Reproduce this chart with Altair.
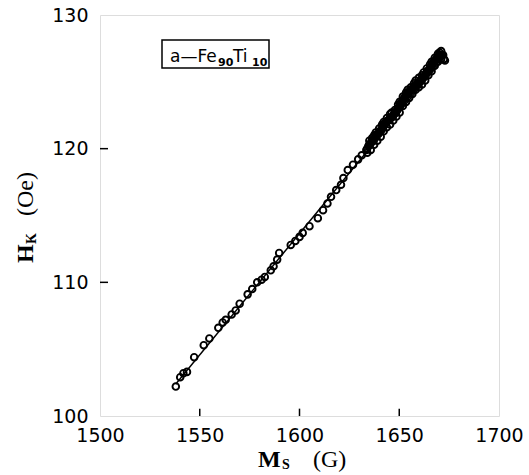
import altair as alt
import pandas as pd

# measured points: Ms (G), Hk (Oe)
ms_vals = [1538.0, 1540.2, 1541.8, 1543.6, 1547.2, 1552.0, 1554.8, 1559.3, 1561.5, 1563.0,
           1566.0, 1568.0, 1570.0, 1574.0, 1576.3, 1578.8, 1581.0, 1582.6, 1585.6, 1587.0,
           1588.8, 1589.8, 1595.6, 1597.9, 1600.0, 1601.6, 1605.0, 1609.2, 1611.8, 1614.0,
           1615.8, 1618.4, 1620.8, 1622.0, 1624.2, 1626.8, 1629.4, 1631.2,
           1633.5, 1634.5, 1635.3, 1636.0, 1637.0, 1637.8, 1638.6, 1639.5, 1640.3, 1641.0,
           1641.8, 1642.6, 1643.4, 1644.2, 1645.0, 1645.8, 1646.6, 1647.4, 1648.2, 1649.0,
           1649.8, 1650.6, 1651.4, 1652.2, 1653.0, 1653.8, 1654.6, 1655.4, 1656.2, 1657.0,
           1657.8, 1658.6, 1659.4, 1660.2, 1661.0, 1661.8, 1662.6, 1663.4, 1664.2, 1665.0,
           1665.8, 1666.6, 1667.4, 1668.2, 1669.0, 1669.8, 1670.6, 1671.4, 1672.0, 1672.9]
hk_vals = [102.2, 102.9, 103.2, 103.3, 104.4, 105.3, 105.8, 106.6, 107.0, 107.2,
           107.6, 107.9, 108.4, 109.1, 109.5, 110.0, 110.2, 110.4, 110.9, 111.2,
           111.7, 112.2, 112.8, 113.1, 113.4, 113.7, 114.2, 114.8, 115.4, 115.9,
           116.4, 116.9, 117.3, 117.8, 118.4, 118.8, 119.2, 119.5,
           119.9, 120.2, 120.3, 120.5, 120.6, 120.8, 121.0, 121.1, 121.3, 121.4,
           121.6, 121.8, 122.0, 122.1, 122.2, 122.3, 122.4, 122.6, 122.7, 122.9,
           123.1, 123.3, 123.5, 123.7, 123.9, 124.0, 124.2, 124.3, 124.4, 124.6,
           124.7, 124.8, 124.9, 125.0, 125.1, 125.3, 125.4, 125.6, 125.8, 125.9,
           126.1, 126.3, 126.5, 126.6, 126.8, 126.9, 127.0, 127.0, 127.0, 126.6]

# extra overlapping points in the dense high-field band (upper edge)
ms_upper = [1635.0, 1636.4, 1637.4, 1638.2, 1639.9, 1641.4, 1642.2, 1643.8, 1645.4, 1646.2,
            1647.8, 1649.4, 1650.2, 1651.8, 1653.4, 1654.2, 1655.8, 1657.4, 1658.2, 1659.8,
            1661.4, 1662.2, 1663.8, 1665.4, 1666.2, 1667.8, 1669.4, 1670.2, 1671.0]
hk_upper = [120.6, 120.8, 121.0, 121.2, 121.5, 121.8, 122.0, 122.3, 122.6, 122.7,
            122.9, 123.3, 123.5, 123.9, 124.2, 124.4, 124.6, 124.9, 125.1, 125.3,
            125.5, 125.7, 126.0, 126.3, 126.5, 126.8, 127.1, 127.2, 127.3]
# (lower edge)
ms_lower = [1634.0, 1635.7, 1637.4, 1639.0, 1640.7, 1642.2, 1643.8, 1645.4, 1647.0, 1648.6,
            1650.2, 1651.8, 1653.4, 1655.0, 1656.6, 1658.2, 1659.8, 1661.4, 1663.0, 1664.6,
            1666.2, 1667.8, 1669.4, 1671.0, 1672.4]
hk_lower = [119.7, 119.9, 120.3, 120.6, 120.9, 121.3, 121.6, 121.8, 122.1, 122.4,
            122.7, 123.2, 123.5, 123.8, 124.1, 124.4, 124.6, 124.8, 125.1, 125.5,
            125.8, 126.2, 126.5, 126.7, 126.7]
# (middle)
ms_mid = [1633.9, 1634.9, 1635.7, 1636.5, 1637.4, 1638.2, 1639.0, 1639.9, 1640.7, 1641.4,
          1642.2, 1643.0, 1643.8, 1644.6, 1645.4, 1646.2, 1647.0, 1647.8, 1648.6, 1649.4,
          1650.2, 1651.0, 1651.8, 1652.6, 1653.4, 1654.2, 1655.0, 1655.8, 1656.6, 1657.4,
          1658.2, 1659.0, 1659.8, 1660.6, 1661.4, 1662.2, 1663.0, 1663.8, 1664.6, 1665.4,
          1666.2, 1667.0, 1667.8, 1668.6, 1669.4, 1670.2, 1671.0, 1671.7]
hk_mid = [120.0, 120.25, 120.4, 120.55, 120.7, 120.9, 121.05, 121.2, 121.35, 121.5,
          121.7, 121.9, 122.05, 122.15, 122.25, 122.35, 122.5, 122.65, 122.8, 123.0,
          123.2, 123.4, 123.6, 123.8, 123.95, 124.1, 124.25, 124.35, 124.5, 124.65,
          124.75, 124.85, 124.95, 125.05, 125.2, 125.35, 125.5, 125.7, 125.85, 126.0,
          126.2, 126.4, 126.55, 126.7, 126.85, 126.95, 127.0, 127.0]

# linear fit line end points
fit_ms = [1538.0, 1673.0]
fit_hk = [102.4, 126.9]

x_ticks = [1500, 1550, 1600, 1650, 1700]
y_ticks = [100, 110, 120, 130]

pts = pd.DataFrame({"ms": ms_vals + ms_upper + ms_lower + ms_mid,
                    "hk": hk_vals + hk_upper + hk_lower + hk_mid})
fit = pd.DataFrame({"ms": fit_ms, "hk": fit_hk})
xt = pd.DataFrame({"v": [1550, 1600, 1650], "lo": [100, 100, 100], "hi": [100.55, 100.55, 100.55]})
yt = pd.DataFrame({"v": [110, 120], "lo": [1500, 1500], "hi": [1504, 1504]})
one = pd.DataFrame({"k": [0]})

xs = alt.Scale(domain=[1500, 1700], nice=False, zero=False)
ys = alt.Scale(domain=[100, 130], nice=False, zero=False)

xax = alt.Axis(values=x_ticks, title=None, tickSize=0, labelPadding=10, grid=False,
               domain=False, labelFont="DejaVu Sans", labelFontSize=19, format="d",
               labelColor="black", labelFlush=False)
yax = alt.Axis(values=y_ticks, title=None, tickSize=0, labelPadding=12, grid=False,
               domain=False, labelFont="DejaVu Sans", labelFontSize=19, format="d",
               labelColor="black", labelFlush=False)

line = alt.Chart(fit).mark_line(color="black", strokeWidth=1.5).encode(
    x=alt.X("ms:Q", scale=xs, axis=xax),
    y=alt.Y("hk:Q", scale=ys, axis=yax),
)

points = alt.Chart(pts).mark_point(shape="circle", filled=False, color="black",
                                   size=44, strokeWidth=1.9, opacity=1).encode(
    x=alt.X("ms:Q", scale=xs),
    y=alt.Y("hk:Q", scale=ys),
)

xtick = alt.Chart(xt).mark_rule(color="black", strokeWidth=1.5).encode(
    x=alt.X("v:Q", scale=xs), y=alt.Y("lo:Q", scale=ys), y2="hi:Q")
ytick = alt.Chart(yt).mark_rule(color="black", strokeWidth=1.5).encode(
    y=alt.Y("v:Q", scale=ys), x=alt.X("lo:Q", scale=xs), x2="hi:Q")

# legend box (positions relative to plot origin at canvas (100,15))
box = alt.Chart(one).mark_rect(fill="white", stroke="black", strokeWidth=1.5).encode(
    x=alt.value(62), x2=alt.value(169), y=alt.value(25), y2=alt.value(53))

def txt(s, x, y, size, font="DejaVu Sans", weight="normal", angle=0):
    return alt.Chart(one).mark_text(text=s, align="left", baseline="alphabetic",
                                    font=font, fontSize=size, fontWeight=weight,
                                    color="black", angle=angle).encode(
        x=alt.value(x), y=alt.value(y))

lab = [
    txt("a—Fe", 70, 47, 17),
    txt("90", 118, 51, 11, weight="bold"),
    txt("Ti", 133, 47, 17),
    txt("10", 152, 51, 11, weight="bold"),
]

serif = "Liberation Serif"
xtitle = [
    txt("M", 158, 452, 24, font=serif, weight="bold"),
    txt("S", 182, 454, 14, font=serif, weight="bold"),
    txt("(G)", 213, 452, 24, font=serif),
]
ytitle = [
    txt("H", -67, 248, 24, font=serif, weight="bold", angle=270),
    txt("K", -64, 229, 14, font=serif, weight="bold", angle=270),
    txt("(Oe)", -67, 201, 24, font=serif, angle=270),
]

chart = alt.layer(line, points, xtick, ytick, box, *lab, *xtitle, *ytitle).properties(
    width=399, height=401, autosize="none",
    padding={"left": 100, "top": 15, "right": 30, "bottom": 59},
).configure_view(stroke="black", strokeWidth=2).configure(background="white")

chart.save("out.html", embed_options={"renderer": "svg", "actions": False})
